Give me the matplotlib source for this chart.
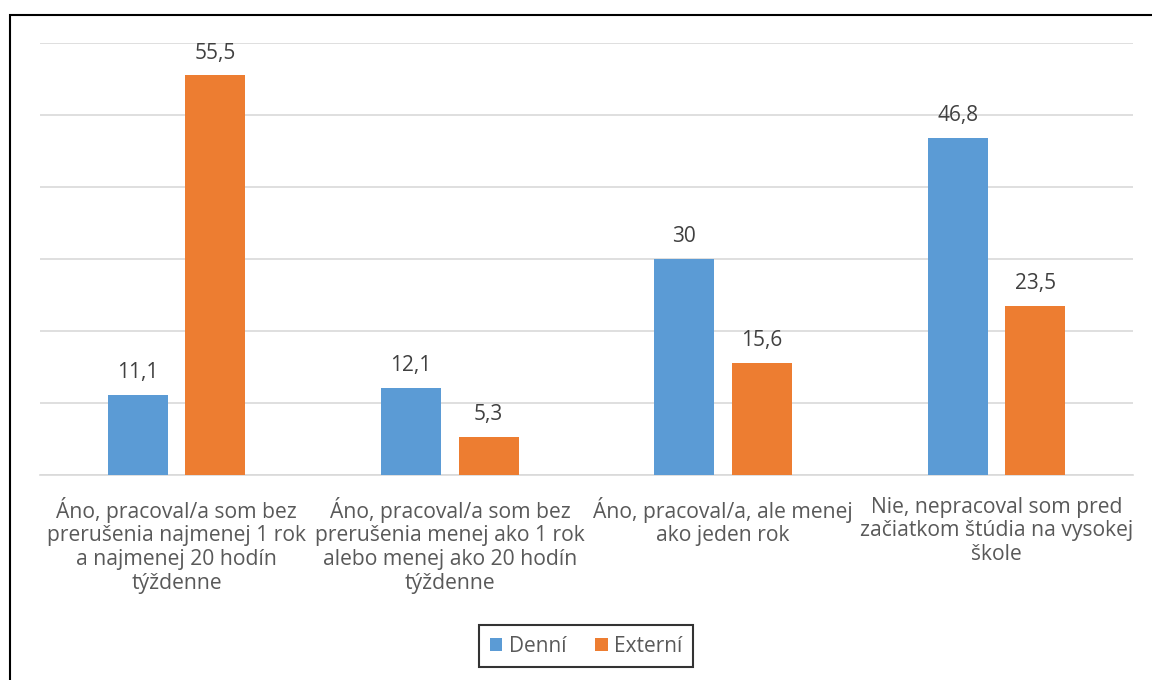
import matplotlib.pyplot as plt
import numpy as np
from matplotlib.patches import Rectangle

categories = [
    "Áno, pracoval/a som bez\nprerušenia najmenej 1 rok\na najmenej 20 hodín\ntýždenne",
    "Áno, pracoval/a som bez\nprerušenia menej ako 1 rok\nalebo menej ako 20 hodín\ntýždenne",
    "Áno, pracoval/a, ale menej\nako jeden rok",
    "Nie, nepracoval som pred\nzačiatkom štúdia na vysokej\nškole",
]
denni = [11.1, 12.1, 30, 46.8]
externi = [55.5, 5.3, 15.6, 23.5]
series_names = ["Denní", "Externí"]

plt.rcParams['font.family'] = ['Open Sans', 'DejaVu Sans']
text_color = "#595959"

fig = plt.figure(figsize=(11.52, 6.8), dpi=100)
ax = fig.add_axes([40 / 1152, 1 - 475 / 680, 1093 / 1152, 432 / 680])

x = np.arange(len(categories))
width = 0.22
offset = 0.142
b1 = ax.bar(x - offset, denni, width, color="#5b9bd5", label=series_names[0], zorder=3)
b2 = ax.bar(x + offset, externi, width, color="#ed7d31", label=series_names[1], zorder=3)

# data labels above each bar, decimal comma
for bars in (b1, b2):
    for rect in bars:
        h = rect.get_height()
        label = f"{h:g}".replace(".", ",")
        ax.annotate(label, (rect.get_x() + rect.get_width() / 2, h),
                    xytext=(0, 8.5), textcoords="offset points",
                    ha="center", va="bottom", fontsize=15, color="#404040")

ax.set_xlim(-0.5, 3.5)
ax.set_ylim(0, 60)
ax.set_yticks(np.arange(0, 61, 10))
ax.yaxis.grid(True, color="#d9d9d9", linewidth=1.2, zorder=0)
ax.tick_params(axis="y", left=False, labelleft=False)
ax.tick_params(axis="x", length=0, pad=15.5)
ax.set_xticks(x)
ax.set_xticklabels(categories, fontsize=15.2, color=text_color, linespacing=1.17)
for side in ("top", "right", "left"):
    ax.spines[side].set_visible(False)
ax.spines["bottom"].set_color("#d9d9d9")
ax.spines["bottom"].set_linewidth(1.2)

leg = ax.legend(loc="center", bbox_to_anchor=(586 / 1152, 1 - 646 / 680),
                bbox_transform=fig.transFigure, ncol=2, frameon=True,
                fancybox=False, fontsize=15, handlelength=0.6, handleheight=0.6,
                columnspacing=1.4, handletextpad=0.3, borderpad=0.5)
leg.get_frame().set_edgecolor("black")
leg.get_frame().set_linewidth(1.5)
for t in leg.get_texts():
    t.set_color(text_color)

# outer border (chart area frame, cut off at right and bottom)
fig.patches.append(Rectangle((10 / 1152, -0.1), 1.2, 1 - 15 / 680 + 0.1,
                             transform=fig.transFigure, fill=False,
                             edgecolor="black", linewidth=1.5))

fig.savefig("out.png", dpi=100)
